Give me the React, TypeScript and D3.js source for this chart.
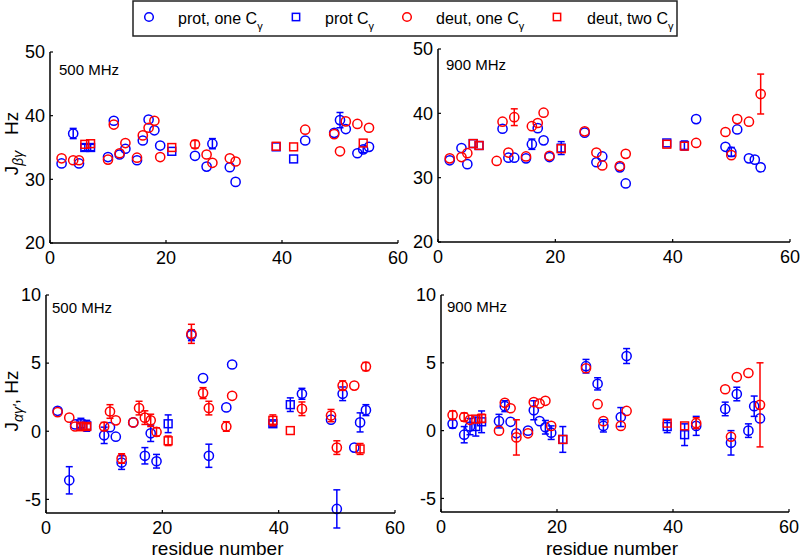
import React from 'react';
import * as d3 from 'd3';

const BLUE = '#0000ff';
const RED = '#ff0000';

// ---------- Top-left: J_βγ, 500 MHz ----------
const tlProtOneRes = [2, 4, 5, 10, 11, 12, 13, 15, 16, 17, 18, 19, 25, 27, 28, 31, 32, 44, 49, 50, 51, 53, 54, 55];
const tlProtOneVal = [32.5, 37.2, 32.5, 33.5, 39.2, 33.9, 34.8, 33.0, 36.1, 39.4, 37.7, 35.3, 33.7, 32.0, 35.6, 31.9, 29.6, 36.1, 37.3, 39.3, 37.9, 34.1, 34.7, 35.1];
const tlProtOneErr = [0, 0.8, 0, 0, 0, 0, 0, 0, 0, 0, 0, 0, 0, 0, 0.8, 0, 0, 0, 0, 1.2, 0, 0, 0.5, 0];
const tlProtTwoRes = [6, 7, 21, 39, 42];
const tlProtTwoVal = [35.0, 35.0, 34.4, 35.1, 33.2];
const tlProtTwoErr = [0.5, 0.5, 0, 0, 0];
const tlDeutOneRes = [2, 4, 5, 10, 11, 12, 13, 15, 16, 17, 18, 19, 25, 27, 28, 31, 32, 44, 49, 50, 51, 53, 55];
const tlDeutOneVal = [33.3, 33.0, 33.0, 33.1, 38.6, 34.1, 35.7, 33.4, 36.9, 38.1, 39.2, 33.5, 35.5, 33.9, 32.6, 33.3, 32.8, 37.8, 37.1, 34.4, 39.1, 38.7, 38.1];
const tlDeutOneErr = [0, 0, 0, 0, 0, 0, 0, 0, 0, 0, 0, 0, 0.6, 0, 0, 0, 0, 0, 0, 0, 0, 0, 0];
const tlDeutTwoRes = [6, 7, 21, 39, 42, 54];
const tlDeutTwoVal = [35.5, 35.6, 35.0, 35.2, 35.1, 35.7];
const tlDeutTwoErr = [0, 0, 0, 0, 0, 0];

// ---------- Top-right: J_βγ, 900 MHz ----------
const trProtOneRes = [2, 4, 5, 11, 12, 13, 15, 16, 17, 18, 19, 25, 27, 28, 31, 32, 44, 49, 50, 51, 53, 54, 55];
const trProtOneVal = [32.7, 34.6, 32.1, 37.6, 33.1, 33.1, 33.0, 35.2, 37.7, 35.8, 33.2, 37.0, 32.4, 33.3, 31.6, 29.1, 39.1, 34.8, 34.0, 37.5, 33.0, 32.8, 31.6];
const trProtOneErr = [0, 0, 0, 0, 0, 0, 0, 0.8, 0, 0, 0, 0, 0, 0, 0, 0, 0, 0, 0.7, 0, 0, 0, 0];
const trProtTwoRes = [6, 7, 21, 39, 42];
const trProtTwoVal = [35.3, 35.0, 34.6, 35.4, 35.0];
const trProtTwoErr = [0, 0, 1.0, 0, 0.7];
const trDeutOneRes = [2, 4, 5, 10, 11, 12, 13, 15, 16, 17, 18, 19, 25, 27, 28, 31, 32, 44, 49, 50, 51, 53, 55];
const trDeutOneVal = [33.0, 33.2, 33.8, 32.6, 38.7, 33.9, 39.4, 33.3, 38.0, 38.5, 40.1, 33.4, 37.2, 33.9, 31.9, 31.8, 33.7, 35.4, 37.1, 33.5, 39.1, 38.7, 43.0];
const trDeutOneErr = [0, 0, 0, 0, 0, 0, 1.3, 0, 0, 0, 0, 0, 0, 0, 0, 0, 0, 0, 0, 0, 0, 0, 3.1];
const trDeutTwoRes = [6, 7, 21, 39, 42];
const trDeutTwoVal = [35.3, 35.0, 34.5, 35.2, 34.9];
const trDeutTwoErr = [0, 0, 0, 0, 0];

// ---------- Bottom-left: J_αγ', 500 MHz ----------
const blProtOneRes = [2, 4, 5, 10, 11, 12, 13, 15, 17, 18, 19, 25, 27, 28, 31, 32, 44, 49, 50, 51, 53, 54, 55];
const blProtOneVal = [1.5, -3.6, 0.5, -0.3, 0.3, -0.4, -2.3, 0.65, -1.8, -0.15, -2.2, 7.05, 3.9, -1.8, 1.75, 4.9, 2.75, 0.85, -5.7, 2.75, -1.2, 0.65, 1.55];
const blProtOneErr = [0, 1.0, 0, 0.6, 0, 0, 0.5, 0, 0.6, 0.6, 0.5, 0.4, 0, 0.85, 0, 0, 0.4, 0, 1.4, 0.5, 0, 0.7, 0.4];
const blProtTwoRes = [6, 7, 21, 39, 42];
const blProtTwoVal = [0.55, 0.4, 0.55, 0.55, 1.95];
const blProtTwoErr = [0.4, 0.4, 0.65, 0.2, 0.5];
const blDeutOneRes = [2, 4, 5, 10, 11, 12, 13, 15, 16, 17, 18, 19, 25, 27, 28, 31, 32, 44, 49, 50, 51, 53, 55];
const blDeutOneVal = [1.4, 1.0, 0.35, 0.35, 1.45, 0.8, -2.0, 0.65, 1.7, 1.0, 0.8, -0.05, 7.15, 2.8, 1.7, 0.35, 2.6, 1.65, 1.15, -1.2, 3.35, 3.35, 4.75];
const blDeutOneErr = [0, 0, 0, 0.3, 0.5, 0, 0.35, 0, 0.5, 0.5, 0.45, 0.3, 0.7, 0.4, 0.5, 0.35, 0, 0.5, 0.45, 0.5, 0.35, 0, 0.3];
const blDeutTwoRes = [6, 7, 21, 39, 42, 54];
const blDeutTwoVal = [0.35, 0.35, -0.7, 0.8, 0.05, -1.3];
const blDeutTwoErr = [0.3, 0.2, 0.35, 0.4, 0, 0.4];

// ---------- Bottom-right: J_αγ', 900 MHz ----------
const brProtOneRes = [2, 4, 5, 10, 11, 12, 13, 15, 16, 17, 18, 19, 25, 27, 28, 31, 32, 44, 49, 50, 51, 53, 54, 55];
const brProtOneVal = [0.5, -0.3, 0.3, 0.7, 1.8, 0.65, -0.2, 0.0, 1.5, 0.7, 0.25, -0.15, 4.75, 3.45, 0.35, 1.0, 5.5, 0.35, 1.6, -0.9, 2.7, 0.0, 1.8, 0.9];
const brProtOneErr = [0.3, 0.6, 0.6, 0.5, 0.4, 0, 0, 0, 0.7, 0, 0.5, 0.5, 0.5, 0.45, 0.45, 0.7, 0.55, 0.7, 0.5, 0.9, 0.5, 0.5, 0.75, 0];
const brProtTwoRes = [6, 7, 21, 39, 42];
const brProtTwoVal = [0.3, 0.65, -0.65, 0.3, -0.3];
const brProtTwoErr = [0.7, 0.8, 0.95, 0.45, 0.8];
const brDeutOneRes = [2, 4, 5, 10, 11, 12, 13, 15, 16, 17, 18, 19, 25, 27, 28, 31, 32, 44, 49, 50, 51, 53, 55];
const brDeutOneVal = [1.15, 1.0, 0.8, 0.0, 2.05, 1.65, -0.5, -0.2, 2.1, 2.0, 2.2, 0.35, 4.6, 1.95, 0.7, 0.35, 1.45, 0.55, 3.05, -0.45, 3.95, 4.25, 1.9];
const brDeutOneErr = [0.3, 0.3, 0, 0, 0, 0, 1.3, 0, 0, 0, 0, 0, 0, 0, 0, 0, 0, 0.4, 0, 0, 0, 0, 3.1];
const brDeutTwoRes = [6, 7, 21, 39, 42];
const brDeutTwoVal = [0.85, 0.9, -0.65, 0.55, 0.35];
const brDeutTwoErr = [0, 0.3, 0, 0, 0];

const xTicks = [0, 20, 40, 60];
const topYTicks = [20, 30, 40, 50];
const bottomYTicks = [-5, 0, 5, 10];
const legendLabels = ['prot, one C', 'prot C', 'deut, one C', 'deut, two C'];

type Shape = 'circle' | 'square';
interface Series { res: number[]; val: number[]; err: number[]; color: string; shape: Shape; }

const mk = (res: number[], val: number[], err: number[], color: string, shape: Shape): Series => ({ res, val, err, color, shape });

const panels = [
  {
    key: 'tl', left: 50, right: 398, top: 52, bottom: 243, yDomain: [20, 50], yTicks: topYTicks,
    freq: '500 MHz', fx: 59, fy: 75, ylab: 'beta', xlab: false,
    series: [
      mk(tlProtOneRes, tlProtOneVal, tlProtOneErr, BLUE, 'circle'),
      mk(tlProtTwoRes, tlProtTwoVal, tlProtTwoErr, BLUE, 'square'),
      mk(tlDeutOneRes, tlDeutOneVal, tlDeutOneErr, RED, 'circle'),
      mk(tlDeutTwoRes, tlDeutTwoVal, tlDeutTwoErr, RED, 'square'),
    ],
  },
  {
    key: 'tr', left: 438, right: 790, top: 49, bottom: 242, yDomain: [20, 50], yTicks: topYTicks,
    freq: '900 MHz', fx: 446, fy: 70, ylab: '', xlab: false,
    series: [
      mk(trProtOneRes, trProtOneVal, trProtOneErr, BLUE, 'circle'),
      mk(trProtTwoRes, trProtTwoVal, trProtTwoErr, BLUE, 'square'),
      mk(trDeutOneRes, trDeutOneVal, trDeutOneErr, RED, 'circle'),
      mk(trDeutTwoRes, trDeutTwoVal, trDeutTwoErr, RED, 'square'),
    ],
  },
  {
    key: 'bl', left: 46, right: 395, top: 295, bottom: 513, yDomain: [-6, 10], yTicks: bottomYTicks,
    freq: '500 MHz', fx: 52, fy: 313, ylab: 'alpha', xlab: true,
    series: [
      mk(blProtOneRes, blProtOneVal, blProtOneErr, BLUE, 'circle'),
      mk(blProtTwoRes, blProtTwoVal, blProtTwoErr, BLUE, 'square'),
      mk(blDeutOneRes, blDeutOneVal, blDeutOneErr, RED, 'circle'),
      mk(blDeutTwoRes, blDeutTwoVal, blDeutTwoErr, RED, 'square'),
    ],
  },
  {
    key: 'br', left: 441, right: 789, top: 295, bottom: 512, yDomain: [-6, 10], yTicks: bottomYTicks,
    freq: '900 MHz', fx: 447, fy: 312, ylab: '', xlab: true,
    series: [
      mk(brProtOneRes, brProtOneVal, brProtOneErr, BLUE, 'circle'),
      mk(brProtTwoRes, brProtTwoVal, brProtTwoErr, BLUE, 'square'),
      mk(brDeutOneRes, brDeutOneVal, brDeutOneErr, RED, 'circle'),
      mk(brDeutTwoRes, brDeutTwoVal, brDeutTwoErr, RED, 'square'),
    ],
  },
];

const FONT = 'Liberation Sans, Arial, Helvetica, sans-serif';

function Marker({ shape, cx, cy, color, r = 4.6 }: { shape: Shape; cx: number; cy: number; color: string; r?: number }) {
  if (shape === 'circle') {
    return <circle cx={cx} cy={cy} r={r} fill="none" stroke={color} strokeWidth={1.5} />;
  }
  const s = r * 0.85;
  return <rect x={cx - s} y={cy - s} width={2 * s} height={2 * s} fill="none" stroke={color} strokeWidth={1.5} />;
}

function Panel({ p }: { p: typeof panels[number] }) {
  const x = d3.scaleLinear().domain([0, 60]).range([p.left, p.right]);
  const y = d3.scaleLinear().domain(p.yDomain).range([p.bottom, p.top]);
  const cap = 3.5;
  return (
    <g>
      {p.series.map((s, si) => (
        <g key={si}>
          {s.res.map((r, i) => {
            const cx = x(r);
            const cy = y(s.val[i]);
            const e = s.err[i];
            return (
              <g key={i}>
                {e > 0 && (
                  <g stroke={s.color} strokeWidth={1.5}>
                    <line x1={cx} x2={cx} y1={y(s.val[i] - e)} y2={y(s.val[i] + e)} />
                    <line x1={cx - cap} x2={cx + cap} y1={y(s.val[i] - e)} y2={y(s.val[i] - e)} />
                    <line x1={cx - cap} x2={cx + cap} y1={y(s.val[i] + e)} y2={y(s.val[i] + e)} />
                  </g>
                )}
                <Marker shape={s.shape} cx={cx} cy={cy} color={s.color} />
              </g>
            );
          })}
        </g>
      ))}
      <line x1={p.left} x2={p.right} y1={p.bottom} y2={p.bottom} stroke="#000" strokeWidth={1.5} />
      <line x1={p.left} x2={p.left} y1={p.top} y2={p.bottom} stroke="#000" strokeWidth={1.5} />
      {xTicks.map((t) => (
        <g key={'x' + t}>
          <line x1={x(t)} x2={x(t)} y1={p.bottom} y2={p.bottom - 3} stroke="#000" strokeWidth={1.2} />
          <text x={x(t)} y={p.bottom + 21} textAnchor="middle" fontSize={18} fontFamily={FONT}>{t}</text>
        </g>
      ))}
      {p.yTicks.map((t) => (
        <g key={'y' + t}>
          <line x1={p.left} x2={p.left + 3} y1={y(t)} y2={y(t)} stroke="#000" strokeWidth={1.2} />
          <text x={p.left - 5} y={y(t)} dy="0.35em" textAnchor="end" fontSize={18} fontFamily={FONT}>{t}</text>
        </g>
      ))}
      <text x={p.fx} y={p.fy} fontSize={15} fontFamily={FONT}>{p.freq}</text>
      {p.ylab === 'beta' && (
        <text transform={`translate(18,${(p.top + p.bottom) / 2 - 4}) rotate(-90)`} textAnchor="middle" fontSize={19} fontFamily={FONT}>
          J<tspan fontSize={14} dy={5} fontStyle="italic">βγ</tspan><tspan dy={-5}>{'\u00A0\u00A0\u00A0Hz'}</tspan>
        </text>
      )}
      {p.ylab === 'alpha' && (
        <text transform={`translate(18,${(p.top + p.bottom) / 2 - 3}) rotate(-90)`} textAnchor="middle" fontSize={19} fontFamily={FONT}>
          J<tspan fontSize={14} dy={5} fontStyle="italic">αγ'</tspan><tspan dy={-5}>{', Hz'}</tspan>
        </text>
      )}
      {p.xlab && (
        <text x={(p.left + p.right) / 2 - 3} y={555} textAnchor="middle" fontSize={19} fontFamily={FONT}>residue number</text>
      )}
    </g>
  );
}

const legendItems = [
  { label: legendLabels[0], color: BLUE, shape: 'circle' as Shape, mx: 149, tx: 178 },
  { label: legendLabels[1], color: BLUE, shape: 'square' as Shape, mx: 296, tx: 325 },
  { label: legendLabels[2], color: RED, shape: 'circle' as Shape, mx: 407, tx: 436 },
  { label: legendLabels[3], color: RED, shape: 'square' as Shape, mx: 557, tx: 587 },
];

export default function App() {
  return (
    <svg width={800} height={558} style={{ position: 'absolute', left: 0, top: 0, background: '#fff' }}>
      <rect x={0} y={0} width={800} height={558} fill="#fff" />
      {panels.map((p) => <Panel key={p.key} p={p} />)}
      <g>
        <rect x={133} y={1} width={544} height={35} fill="#fff" stroke="#222" strokeWidth={1.5} />
        {legendItems.map((it, i) => (
          <g key={i}>
            <Marker shape={it.shape} cx={it.mx} cy={17} color={it.color} r={4.3} />
            <text x={it.tx} y={24} fontSize={16} fontFamily={FONT}>
              {it.label}<tspan fontSize={11} dy={6}>γ</tspan>
            </text>
          </g>
        ))}
      </g>
    </svg>
  );
}
